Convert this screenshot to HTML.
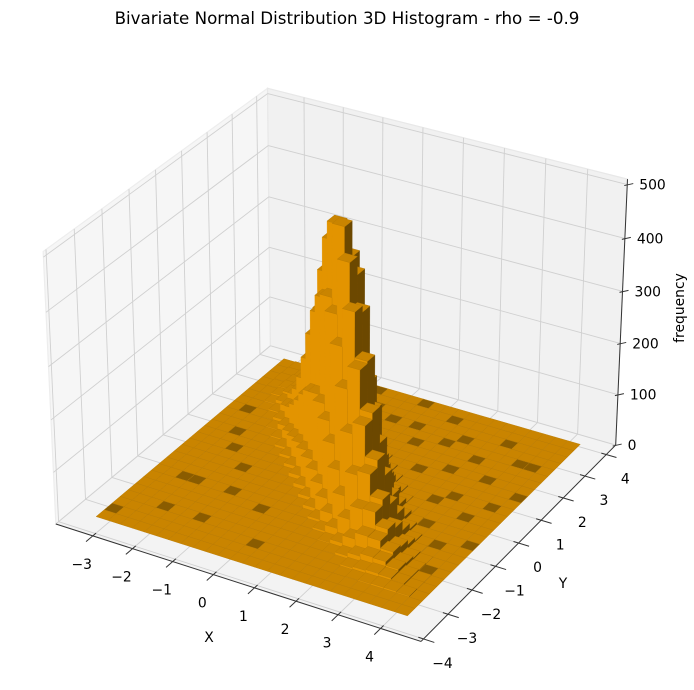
<!DOCTYPE html>
<html><head><meta charset="utf-8"><style>
html,body{margin:0;padding:0;background:#fff;}
svg{display:block;font-family:"DejaVu Sans","Liberation Sans",sans-serif;}
</style></head><body>
<svg id="chart" width="694" height="690" viewBox="0 0 694 690" xmlns="http://www.w3.org/2000/svg">
<rect x="0" y="0" width="694" height="690" fill="#ffffff"/>
<text x="347" y="24" text-anchor="middle" font-size="16.7" fill="#000">Bivariate Normal Distribution 3D Histogram - rho = -0.9</text>
<g id="panes"></g>
<g id="grid"></g>
<g id="axes"></g>
<g id="bars"></g>
<g id="labels"></g>
<text x="209" y="642" text-anchor="middle" font-size="13.9" fill="#000">X</text>
<text x="563" y="588" text-anchor="middle" font-size="13.9" fill="#000">Y</text>
<text x="0" y="0" transform="translate(684,308) rotate(-90)" text-anchor="middle" font-size="13.9" fill="#000">frequency</text>
</svg>
<script>
// ---- data ----
const xTicks = [-3,-2,-1,0,1,2,3,4];
const yTicks = [-4,-3,-2,-1,0,1,2,3,4];
const zTicks = [0,100,200,300,400,500];
const xTickLabels = ["\u22123","\u22122","\u22121","0","1","2","3","4"];
const yTickLabels = ["\u22124","\u22123","\u22122","\u22121","0","1","2","3","4"];
const zTickLabels = ["0","100","200","300","400","500"];
const nBins = 25;
const xBinMin = -3.36, xBinMax = 4.25;
const yBinMin = -3.45, yBinMax = 4.1;
// counts per y-row: first non-zero x-bin index and the run of counts
const rowStart = [0,0,19,18,16,15,14,13,11,10,9,8,7,7,6,5,4,3,3,2,1,1,1,1,1];
const rowVals = [
 [],
 [],
 [1,2,3,3,2],
 [3,6,8,7,4,1],
 [1,5,12,18,17,10,4,1],
 [2,9,24,37,36,22,8,2],
 [4,16,41,68,70,45,18,4,1],
 [5,24,66,113,122,81,34,9,1],
 [1,7,33,95,172,194,136,59,16,3],
 [1,8,41,126,237,280,206,94,27,5],
 [1,9,47,150,298,369,284,136,41,8,1],
 [1,9,49,164,340,442,357,179,56,11,1],
 [1,8,46,162,353,490,408,214,71,14,2],
 [7,40,146,333,477,424,233,81,17,3],
 [5,31,120,286,430,400,231,84,19,3],
 [3,22,89,224,352,344,208,79,19,3],
 [2,14,61,159,262,269,171,68,17,3],
 [1,8,37,102,178,191,127,53,14,2],
 [4,21,60,109,123,86,38,10,2],
 [2,11,32,61,72,53,24,7,1],
 [1,5,16,31,39,30,14,4,1],
 [2,7,15,19,15,8,2],
 [3,6,8,7,4,1],
 [2,3,3,2,1],
 [1,1,1]
];
// floor cells rendered darker (zero-height bar bottoms showing)
const darkCells = [[0,1],[3,3],[6,3],[9,6],[2,7],[3,7],[6,7],[11,2],[5,10],[3,12],[8,12],[2,14],[6,15],[1,17],[4,18],[7,19],[2,20],[5,21],[9,22],[11,21],[13,21],[14,19],[16,20],[18,17],[20,14],[19,19],[21,17],[17,21],[22,12],[23,14],[20,10],[22,8],[23,5],[24,9],[19,13],[15,23],[12,24],[8,24],[16,16],[23,20],[22,20],[20,22],[24,16]];

// ---- projection ----
const XL=[-3.94,4.94], YL=[-4.1,4.45], ZL=[0,510];
const A=[1.1429,1.1429,0.8572], DIST=10;
const el=30*Math.PI/180, az=-60*Math.PI/180;
const U=[Math.cos(el)*Math.cos(az),Math.cos(el)*Math.sin(az),Math.sin(el)];
let R=[-U[1],U[0],0]; {const m=Math.hypot(R[0],R[1]); R=[R[0]/m,R[1]/m,0];}
const UP=[U[1]*R[2]-U[2]*R[1],U[2]*R[0]-U[0]*R[2],U[0]*R[1]-U[1]*R[0]];
function dot(a,b){return a[0]*b[0]+a[1]*b[1]+a[2]*b[2];}
function nrm(x,y,z){return [(x-XL[0])/(XL[1]-XL[0])*A[0]-A[0]/2,(y-YL[0])/(YL[1]-YL[0])*A[1]-A[1]/2,(z-ZL[0])/(ZL[1]-ZL[0])*A[2]-A[2]/2];}
function raw(x,y,z){const n=nrm(x,y,z);const d=DIST-dot(n,U);return [dot(n,R)/d,dot(n,UP)/d];}
const calib=[[XL[0],YL[0],0,56,521],[XL[1],YL[0],0,422,644],[XL[1],YL[1],0,615,445],[XL[0],YL[1],ZL[1],267,91],[XL[0],YL[0],ZL[1],43,253],[XL[1],YL[1],500,627,183],[XL[1],YL[1],ZL[1],628,177]];
let kx,ox,ky,oy;
(function(){
 const s=calib.map(c=>raw(c[0],c[1],c[2]));
 const n=s.length;
 let msx=0,msy=0,mpx=0,mpy=0;
 for(let i=0;i<n;i++){msx+=s[i][0];msy+=s[i][1];mpx+=calib[i][3];mpy+=calib[i][4];}
 msx/=n;msy/=n;mpx/=n;mpy/=n;
 let a=0,b=0,c=0,d=0;
 for(let i=0;i<n;i++){const dx=s[i][0]-msx,dy=s[i][1]-msy;a+=dx*(calib[i][3]-mpx);b+=dx*dx;c+=dy*(calib[i][4]-mpy);d+=dy*dy;}
 kx=a/b; ox=mpx-kx*msx; ky=-c/d; oy=mpy+ky*msy;
})();
function S(x,y,z){const r=raw(x,y,z);return [ox+kx*r[0],oy-ky*r[1]];}
const NS="http://www.w3.org/2000/svg";
function pts(list){return list.map(p=>{const q=S(p[0],p[1],p[2]);return q[0].toFixed(2)+","+q[1].toFixed(2);}).join(" ");}
function poly(parent,list,fill,stroke,sw){
 const e=document.createElementNS(NS,"polygon");
 e.setAttribute("points",pts(list));e.setAttribute("fill",fill);
 if(stroke){e.setAttribute("stroke",stroke);e.setAttribute("stroke-width",sw);}
 parent.appendChild(e);return e;
}
function line(parent,a,b,stroke,sw){
 const p=S(a[0],a[1],a[2]),q=S(b[0],b[1],b[2]);
 const e=document.createElementNS(NS,"line");
 e.setAttribute("x1",p[0]);e.setAttribute("y1",p[1]);e.setAttribute("x2",q[0]);e.setAttribute("y2",q[1]);
 e.setAttribute("stroke",stroke);e.setAttribute("stroke-width",sw);
 parent.appendChild(e);return e;
}
const gP=document.getElementById("panes"),gG=document.getElementById("grid"),gA=document.getElementById("axes"),gB=document.getElementById("bars"),gL=document.getElementById("labels");
const [x0,x1]=XL,[y0,y1]=YL,[z0,z1]=ZL;
let e;
e=poly(gP,[[x0,y0,z0],[x0,y1,z0],[x0,y1,z1],[x0,y0,z1]],"#f6f6f6","#ededed",1.2);


e=poly(gP,[[x0,y1,z0],[x1,y1,z0],[x1,y1,z1],[x0,y1,z1]],"#f1f1f1","#e8e8e8",1.2);


e=poly(gP,[[x0,y0,z0],[x1,y0,z0],[x1,y1,z0],[x0,y1,z0]],"#f3f3f3","#eaeaea",1.2);


const GC="#d0d0d0",GW=0.9;
xTicks.forEach(t=>{
 e=line(gG,[t,y0,z0],[t,y1,z0],GC,GW);
 
 
 e=line(gG,[t,y1,z0],[t,y1,z1],GC,GW);
 
 
});
yTicks.forEach(t=>{
 e=line(gG,[x0,t,z0],[x1,t,z0],GC,GW);
 
 
 e=line(gG,[x0,t,z0],[x0,t,z1],GC,GW);
 
 
});
zTicks.forEach(t=>{
 e=line(gG,[x0,y0,t],[x0,y1,t],GC,GW);
 
 
 e=line(gG,[x0,y1,t],[x1,y1,t],GC,GW);
 
 
});
const AC="#333",AW=1;
e=line(gA,[x0,y0,z0],[x1,y0,z0],AC,AW);


e=line(gA,[x1,y0,z0],[x1,y1,z0],AC,AW);


e=line(gA,[x1,y1,z0],[x1,y1,z1],AC,AW);


function txt(x,y,s,anchor,name){
 const t=document.createElementNS(NS,"text");
 t.setAttribute("x",x);t.setAttribute("y",y);t.setAttribute("text-anchor",anchor);
 t.setAttribute("font-size","13.9");t.setAttribute("fill","#000");t.textContent=s;
 
 
 gL.appendChild(t);
}
xTicks.forEach((t,k)=>{
 e=line(gA,[t,y0+0.12,z0],[t,y0-0.25,z0],AC,AW);
 
 
 const p=S(t,y0,z0);txt(p[0]-11,p[1]+33,xTickLabels[k],"middle","x-tick-label");
});
yTicks.forEach((t,k)=>{
 e=line(gA,[x1-0.12,t,z0],[x1+0.25,t,z0],AC,AW);
 
 
 const p=S(x1,t,z0);txt(p[0]+19,p[1]+29,yTickLabels[k],"middle","y-tick-label");
});
zTicks.forEach((t,k)=>{
 const p=S(x1,y1,t);
 const l=document.createElementNS(NS,"line");
 l.setAttribute("x1",p[0]-3);l.setAttribute("y1",p[1]+1);l.setAttribute("x2",p[0]+6);l.setAttribute("y2",p[1]-1);
 l.setAttribute("stroke",AC);l.setAttribute("stroke-width",AW);
 
 
 gA.appendChild(l);
 txt(p[0]+12,p[1]+5,zTickLabels[k],"start","z-tick-label");
});
// bars
const bw=(xBinMax-xBinMin)/nBins, bh=(yBinMax-yBinMin)/nBins;
const dark={};darkCells.forEach(c=>{dark[c[0]+"_"+c[1]]=1;});
const cells=[];
for(let j=0;j<nBins;j++){for(let i=0;i<nBins;i++){
 const vals=rowVals[j],st=rowStart[j];
 const h=(i>=st&&i<st+vals.length)?vals[i-st]:0;
 const bx0=xBinMin+i*bw,by0=yBinMin+j*bh;
 const dep=dot(nrm(bx0+bw/2,by0+bh/2,0),U);
 cells.push({i,j,h,bx0,by0,dep});
}}
cells.sort((a,b)=>a.dep-b.dep);
cells.forEach(c=>{
 const X0=c.bx0,X1=c.bx0+bw,Y0=c.by0,Y1=c.by0+bh,h=c.h;
 const g=document.createElementNS(NS,"g");
 
 
 if(h>0){
  poly(g,[[X0,Y0,0],[X1,Y0,0],[X1,Y0,h],[X0,Y0,h]],"#e39400","#e39400",0.3);
  poly(g,[[X1,Y0,0],[X1,Y1,0],[X1,Y1,h],[X1,Y0,h]],"#6c4800","#6c4800",0.3);
 }
 const top=(h===0&&dark[c.i+"_"+c.j])?"#8a5c00":"#c98400";
 poly(g,[[X0,Y0,h],[X1,Y0,h],[X1,Y1,h],[X0,Y1,h]],top,"#b87800",0.4);
 gB.appendChild(g);
});
</script>
</body></html>
